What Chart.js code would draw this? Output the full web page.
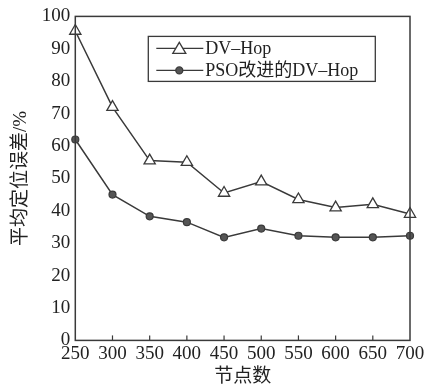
<!DOCTYPE html>
<html>
<head>
<meta charset="utf-8">
<script src="https://cdn.jsdelivr.net/npm/chart.js@4/dist/chart.umd.min.js"></script>
<style>
  html, body { margin: 0; padding: 0; background: #fff; }
  #wrap { width: 430px; height: 388px; }
</style>
</head>
<body>
<div id="wrap"><canvas id="c" width="430" height="388"></canvas></div>
<script>
const nodeCounts = ['250', '300', '350', '400', '450', '500', '550', '600', '650', '700']
const dvHop = [95.5, 72, 55.5, 55, 45.5, 49, 43.5, 41, 42, 39]
const psoDvHop = [62, 45, 38.3, 36.5, 31.8, 34.5, 32.3, 31.8, 31.8, 32.3]
const seriesNames = ['DV\u2013Hop', 'PSO改进的DV\u2013Hop']

const ink = '#3a3a3a'
const serif = "'Liberation Serif', 'Noto Sans CJK SC', serif"

// frame + inward ticks + boxed legend
const framePlugin = {
    id: 'frame',
    afterDraw(chart) {
        const ctx = chart.ctx
        const a = chart.chartArea
        const x = chart.scales.x
        ctx.save()
        ctx.strokeStyle = ink
        ctx.lineWidth = 1.5
        ctx.strokeRect(a.left, a.top, a.right - a.left, a.bottom - a.top)
        ctx.lineWidth = 1.2
        for (let i = 1; i < nodeCounts.length - 1; i++) {
            const px = x.getPixelForTick(i)
            ctx.beginPath()
            ctx.moveTo(px, a.bottom)
            ctx.lineTo(px, a.bottom - 5)
            ctx.stroke()
        }

        // legend box
        const lx = a.left + 73, ly = a.top + 20
        const lw = 227, lh = 45
        ctx.lineWidth = 1.3
        ctx.strokeRect(lx, ly, lw, lh)
        ctx.font = "18px " + serif
        ctx.textBaseline = 'middle'
        chart.data.datasets.forEach((ds, i) => {
            const cy = ly + 12 + i * 22
            ctx.strokeStyle = ink
            ctx.lineWidth = 1.3
            ctx.beginPath()
            ctx.moveTo(lx + 8, cy)
            ctx.lineTo(lx + 55, cy)
            ctx.stroke()
            const mx = lx + 31
            if (i === 0) {
                ctx.fillStyle = '#fff'
                ctx.beginPath()
                ctx.moveTo(mx, cy - 6)
                ctx.lineTo(mx + 6.5, cy + 5)
                ctx.lineTo(mx - 6.5, cy + 5)
                ctx.closePath()
                ctx.fill()
                ctx.stroke()
            } else {
                ctx.fillStyle = '#555'
                ctx.beginPath()
                ctx.arc(mx, cy, 3.5, 0, Math.PI * 2)
                ctx.fill()
                ctx.stroke()
            }
            ctx.fillStyle = '#222'
            ctx.fillText(ds.label, lx + 57, cy + 1)
        })
        ctx.restore()
    }
}

new Chart(document.getElementById('c'), {
    type: 'line',
    data: {
        labels: nodeCounts,
        datasets: [{
            label: seriesNames[0],
            data: dvHop,
            borderColor: ink,
            borderWidth: 1.5,
            pointStyle: 'triangle',
            pointRadius: 6.5,
            pointBackgroundColor: '#fff',
            pointBorderColor: ink,
            pointBorderWidth: 1.3,
            tension: 0
        }, {
            label: seriesNames[1],
            data: psoDvHop,
            borderColor: ink,
            borderWidth: 1.5,
            pointStyle: 'circle',
            pointRadius: 3.5,
            pointBackgroundColor: '#555',
            pointBorderColor: ink,
            pointBorderWidth: 1.2,
            tension: 0
        }]
    },
    options: {
        responsive: false,
        animation: false,
        layout: { padding: { top: 14, right: 20, left: 10, bottom: 0 } },
        plugins: {
            legend: { display: false },
            tooltip: { enabled: false }
        },
        scales: {
            x: {
                offset: false,
                grid: { display: false, drawTicks: false },
                border: { display: false },
                ticks: { color: '#222', font: { family: serif, size: 19 }, padding: 2, maxRotation: 0, autoSkip: false },
                title: { display: true, text: '节点数', color: '#222', font: { family: serif, size: 19 }, padding: { top: -2, bottom: 0 } }
            },
            y: {
                min: 0,
                max: 100,
                grid: { display: false, drawTicks: false },
                border: { display: false },
                ticks: { stepSize: 10, color: '#222', font: { family: serif, size: 19 }, padding: 5 },
                title: { display: true, text: '平均定位误差/%', color: '#222', font: { family: serif, size: 19 }, padding: { top: 0, bottom: 4 } }
            }
        }
    },
    plugins: [framePlugin]
})
</script>
</body>
</html>
